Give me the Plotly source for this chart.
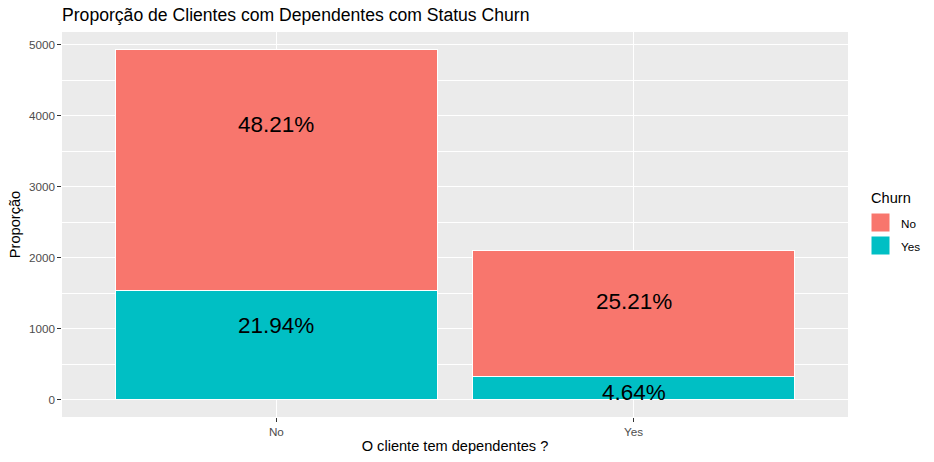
import plotly.graph_objects as go

categories = ["No", "Yes"]
churn_no = [3390, 1773]
churn_yes = [1543, 326]
total = 7032
# label vertical positions (data units)
label_y_no = [3880, 1375]
label_y_yes = [1050, 92]

RED = "#F8766D"
TEAL = "#00BFC4"
FONT = "Liberation Sans, Arial, sans-serif"

W, H = 934, 462
L, R, T, B = 62, 86, 32, 45
PW, PH = W - L - R, H - T - B


def px_x(p):
    return (p - L) / PW


def px_y(p):
    return (H - B - p) / PH


fig = go.Figure()
fig.add_trace(go.Bar(x=categories, y=churn_yes, name="Yes", showlegend=False,
                     marker=dict(color=TEAL, line=dict(color="white", width=1)), width=0.9))
fig.add_trace(go.Bar(x=categories, y=churn_no, name="No", showlegend=False,
                     marker=dict(color=RED, line=dict(color="white", width=1)), width=0.9))

for cat, v, ly in zip(categories, churn_no, label_y_no):
    fig.add_annotation(x=cat, y=ly, text=f"{v/total*100:.2f}%", showarrow=False,
                       font=dict(family=FONT, size=22.5, color="black"))
for cat, v, ly in zip(categories, churn_yes, label_y_yes):
    fig.add_annotation(x=cat, y=ly, text=f"{v/total*100:.2f}%", showarrow=False,
                       font=dict(family=FONT, size=22.5, color="black"))

# manual ggplot-style legend
fig.add_annotation(xref="paper", yref="paper", x=px_x(869), y=px_y(198), text="Churn", showarrow=False,
                   xanchor="left", yanchor="middle", font=dict(family=FONT, size=14.6, color="black"))
for name, color, top in [("No", RED, 213), ("Yes", TEAL, 236)]:
    fig.add_shape(type="rect", xref="paper", yref="paper", x0=px_x(871), x1=px_x(890),
                  y0=px_y(top + 19), y1=px_y(top), fillcolor=color, line=dict(color="white", width=1))
    fig.add_annotation(xref="paper", yref="paper", x=px_x(899), y=px_y(top + 10), text=name, showarrow=False,
                       xanchor="left", yanchor="middle", font=dict(family=FONT, size=11.7, color="black"))

ymax = max(a + b for a, b in zip(churn_no, churn_yes))
pad = ymax * 0.05

fig.update_layout(
    width=W, height=H,
    barmode="stack",
    paper_bgcolor="white",
    plot_bgcolor="#EBEBEB",
    margin=dict(l=L, r=R, t=T, b=B),
    font=dict(family=FONT, color="black"),
    showlegend=False,
    title=dict(text="Proporção de Clientes com Dependentes com Status Churn", x=0, xref="paper", xanchor="left",
               y=1 - 15 / H, yref="container", yanchor="middle",
               font=dict(family=FONT, size=17.6, color="black")),
    xaxis=dict(range=[-0.6, 1.6], showgrid=True, gridcolor="white", gridwidth=1.1, automargin=False,
               ticks="outside", ticklen=3.7, tickcolor="#333333", tickwidth=1.1,
               tickfont=dict(size=11.7, color="#4D4D4D"),
               title=dict(text="O cliente tem dependentes ?", font=dict(size=14.6), standoff=4),
               showline=False, zeroline=False),
    yaxis=dict(range=[-pad, ymax + pad], dtick=1000, showgrid=True, gridcolor="white", gridwidth=1.1,
               automargin=False,
               minor=dict(dtick=500, showgrid=True, gridcolor="white", gridwidth=0.55),
               ticks="outside", ticklen=3.7, tickcolor="#333333", tickwidth=1.1,
               tickfont=dict(size=11.7, color="#4D4D4D"),
               title=dict(text="Proporção", font=dict(size=14.6), standoff=4),
               showline=False, zeroline=False),
    bargap=0.1,
)

fig.write_html("out.html", config={"displayModeBar": False},
               post_script="document.body.style.margin='0';document.body.style.overflow='hidden';")
